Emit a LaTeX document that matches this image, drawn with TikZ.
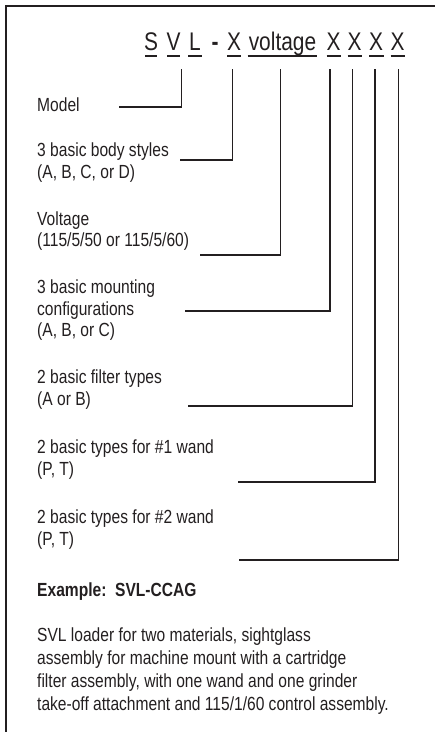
\documentclass[tikz,border=0pt]{standalone}
\usepackage{fontspec}
\setmainfont{Liberation Sans}[FakeStretch=0.82]
\definecolor{ink}{RGB}{35,31,32}
\tikzset{
  lbl/.style={anchor=base west, inner sep=0pt, align=left, text=ink,
    font=\fontsize{19}{21.7}\selectfont},
  para/.style={anchor=base west, inner sep=0pt, align=left, text=ink,
    font=\fontsize{19}{22.8}\selectfont},
  hdr/.style={anchor=base, inner sep=0pt, text=ink,
    font=\fontsize{25.5}{28}\selectfont},
  uline/.style={draw=ink, line width=2pt},
  conn/.style={draw=ink, line width=1.9pt},
  frame/.style={draw=ink, line width=2.4pt}
}
\begin{document}
\begin{tikzpicture}[x=1pt,y=-1pt]
\useasboundingbox (0,0) rectangle (435,732);
% frame (open to right and bottom)
\draw[frame] (440,6) -- (6,6) -- (6,740);
% header
\node[hdr] (hS) at (151,50) {S};
\node[hdr] (hV) at (173.5,50) {V};
\node[hdr] (hL) at (195,50) {L};
\node[hdr,font=\fontsize{25.5}{28}\selectfont\bfseries] (hD) at (215,50) {-};
\node[hdr] (hX1) at (234,50) {X};
\node[hdr] (hVolt) at (282.5,50) {voltage};
\node[hdr] (hX2) at (333.5,50) {X};
\node[hdr] (hX3) at (354.5,50) {X};
\node[hdr] (hX4) at (376,50) {X};
\node[hdr] (hX5) at (397.5,50) {X};
% underlines
\foreach \a/\b in {145/157,167/180,188/202,227/240.5,247.5/317,326.5/341,347.5/362,369/383.5,390.5/405}
  \draw[uline] (\a,55.5) -- (\b,55.5);
% labels (base anchor = baseline of the last line)
\node[lbl] (lModel) at (37,111.5) {Model};
\node[lbl] (lBody) at (37,178.5) {3 basic body styles\\(A, B, C, or D)};
\node[lbl] (lVolt) at (37,246.7) {Voltage\\(115/5/50 or 115/5/60)};
\node[lbl] (lMount) at (37,336.7) {3 basic mounting\\configurations\\(A, B, or C)};
\node[lbl] (lFilt) at (37,405) {2 basic filter types\\(A or B)};
\node[lbl] (lW1) at (37,475) {2 basic types for \#1 wand\\(P, T)};
\node[lbl] (lW2) at (37,545) {2 basic types for \#2 wand\\(P, T)};
\node[lbl,font=\fontsize{19}{21.7}\selectfont\bfseries] (lEx) at (37,596.7) {Example:\ \ SVL-CCAG};
\node[para] (lPara) at (37,710) {SVL loader for two materials, sightglass\\assembly for machine mount with a cartridge\\filter assembly, with one wand and one grinder\\take-off attachment and 115/1/60 control assembly.};
% connector coordinates
\coordinate (tModel) at (181.5,69);  \coordinate (eModel) at (119,106.7);
\coordinate (tBody) at (232.5,69);   \coordinate (eBody) at (180,160);
\coordinate (tVolt) at (280.5,69);   \coordinate (eVolt) at (200,255);
\coordinate (tMount) at (330,69);    \coordinate (eMount) at (185,310.7);
\coordinate (tFilt) at (352.5,69);   \coordinate (eFilt) at (188,406);
\coordinate (tW1) at (375,69);       \coordinate (eW1) at (238,482.3);
\coordinate (tW2) at (398.5,69);     \coordinate (eW2) at (239,560);
\foreach \n in {Model,Body,Volt,Mount,Filt,W1,W2}
  \draw[conn] (t\n) |- (e\n);
\end{tikzpicture}
\end{document}
